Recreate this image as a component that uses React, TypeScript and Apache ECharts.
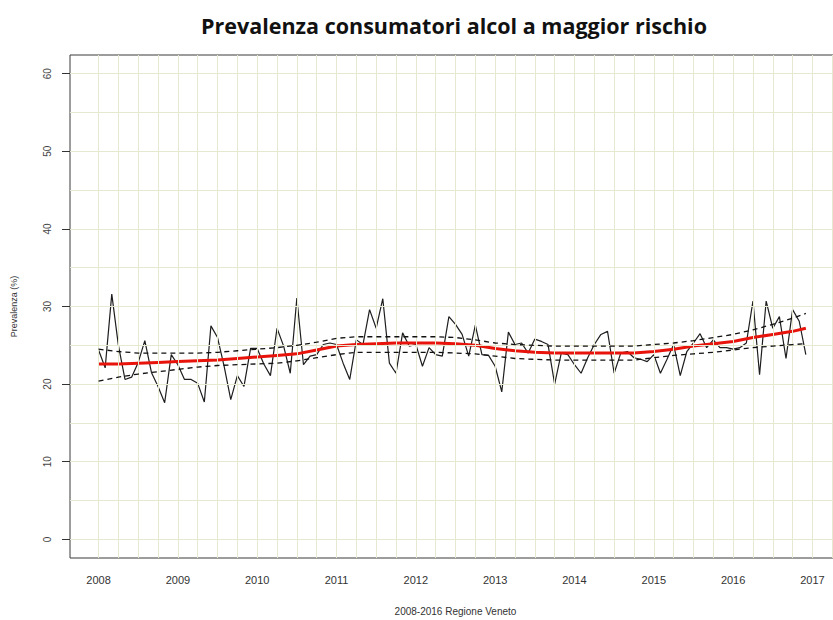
import React, { useEffect, useRef } from "react";
import * as echarts from "echarts";

const TITLE = "Prevalenza consumatori alcol a maggior rischio";
const X_NAME = "2008-2016 Regione Veneto";
const Y_NAME = "Prevalenza (%)";
const START_YEAR = 2008;
const YEAR_TICKS = [2008, 2009, 2010, 2011, 2012, 2013, 2014, 2015, 2016, 2017];
const Y_TICKS = [0, 10, 20, 30, 40, 50, 60];

// monthly prevalence (%), Jan..Dec
const v2008 = [24.4, 22.1, 31.6, 25.0, 20.6, 20.9, 22.8, 25.6, 21.5, 19.7, 17.6, 23.8];
const v2009 = [22.5, 20.6, 20.6, 20.1, 17.7, 27.5, 26.0, 22.3, 18.0, 21.1, 19.7, 24.6];
const v2010 = [24.6, 22.6, 21.1, 27.2, 24.9, 21.4, 31.1, 22.5, 23.6, 23.8, 25.1, 25.3];
const v2011 = [25.1, 22.7, 20.6, 25.7, 25.1, 29.6, 27.2, 31.0, 22.7, 21.4, 26.6, 24.9];
const v2012 = [25.1, 22.3, 24.7, 23.8, 23.6, 28.7, 27.7, 26.4, 23.6, 27.6, 23.8, 23.7];
const v2013 = [22.3, 19.0, 26.7, 25.1, 25.3, 24.0, 25.8, 25.5, 25.1, 20.0, 24.0, 23.8];
const v2014 = [22.5, 21.4, 23.4, 25.1, 26.4, 26.8, 21.4, 24.0, 24.2, 23.4, 23.2, 22.9];
const v2015 = [23.8, 21.4, 23.2, 25.1, 21.1, 24.2, 25.3, 26.5, 24.7, 25.7, 24.7, 24.7];
const v2016 = [24.5, 24.7, 25.3, 30.7, 21.2, 30.7, 27.2, 28.7, 23.3, 29.6, 28.1, 23.8];

// smoothed trend and confidence band, read at quarter points
const trendTimes = [
  2008, 2008.25, 2008.5, 2008.75, 2009, 2009.25, 2009.5, 2009.75,
  2010, 2010.25, 2010.5, 2010.75, 2011, 2011.25, 2011.5, 2011.75,
  2012, 2012.25, 2012.5, 2012.75, 2013, 2013.25, 2013.5, 2013.75,
  2014, 2014.25, 2014.5, 2014.75, 2015, 2015.25, 2015.5, 2015.75,
  2016, 2016.25, 2016.5, 2016.75, 2016.917,
];
const trend = [
  22.6, 22.6, 22.7, 22.8, 22.9, 23.0, 23.1, 23.3,
  23.5, 23.7, 23.9, 24.4, 24.9, 25.1, 25.2, 25.3,
  25.3, 25.3, 25.2, 25.0, 24.6, 24.3, 24.1, 24.0,
  24.0, 24.0, 24.0, 24.0, 24.2, 24.5, 24.9, 25.2,
  25.5, 26.0, 26.4, 26.8, 27.2,
];
const upper = [
  24.5, 24.2, 24.0, 24.0, 24.0, 24.0, 24.1, 24.3,
  24.5, 24.7, 25.0, 25.4, 25.9, 26.1, 26.1, 26.1,
  26.1, 26.1, 26.0, 25.7, 25.3, 25.1, 25.0, 24.9,
  24.9, 24.9, 24.9, 24.9, 25.1, 25.3, 25.6, 26.0,
  26.4, 27.0, 27.7, 28.5, 29.1,
];
const lower = [
  20.4, 20.9, 21.3, 21.6, 21.9, 22.2, 22.4, 22.5,
  22.6, 22.7, 23.0, 23.4, 23.8, 24.1, 24.1, 24.1,
  24.1, 24.1, 24.0, 23.9, 23.6, 23.3, 23.2, 23.1,
  23.1, 23.1, 23.1, 23.1, 23.4, 23.7, 23.9, 24.1,
  24.4, 24.7, 24.9, 25.1, 25.2,
];

export default function App() {
  const ref = useRef<HTMLDivElement>(null);

  useEffect(() => {
    document.body.style.margin = "0";
    if (!ref.current) return;
    const chart = echarts.init(ref.current, null, { renderer: "svg" });

    const monthly = [
      ...v2008, ...v2009, ...v2010, ...v2011, ...v2012,
      ...v2013, ...v2014, ...v2015, ...v2016,
    ];
    const rawData = monthly.map((v, i) => [START_YEAR + i / 12, v]);
    const zip = (vals: number[]) => vals.map((v, i) => [trendTimes[i], v]);

    const gridLines: any[] = [];
    for (let k = 0; k <= 37; k++) gridLines.push({ xAxis: 2008 + k * 0.25 });
    for (let k = 0; k <= 12; k++) gridLines.push({ yAxis: k * 5 });

    const tickFont = "Liberation Sans, Arial, sans-serif";

    chart.setOption({
      animation: false,
      backgroundColor: "#ffffff",
      title: {
        text: TITLE,
        left: 449,
        textAlign: "center",
        top: 9,
        textStyle: {
          fontFamily: "Open Sans, sans-serif",
          fontWeight: "bold",
          fontSize: 21.5,
          color: "#111",
        },
      },
      grid: {
        left: 70,
        top: 55,
        width: 771,
        height: 503,
        containLabel: false,
        outerBoundsMode: "none",
        show: true,
        borderColor: "#3a3a3a",
        borderWidth: 1,
        backgroundColor: "transparent",
      },
      xAxis: {
        type: "value",
        min: 2007.64,
        max: 2017.36,
        name: X_NAME,
        nameLocation: "middle",
        nameGap: 48,
        nameTextStyle: { fontFamily: tickFont, fontSize: 10, color: "#333" },
        axisLine: { show: false },
        axisTick: {
          show: true,
          customValues: YEAR_TICKS,
          length: 9,
          lineStyle: { color: "#333", width: 1 },
        },
        axisLabel: {
          customValues: YEAR_TICKS,
          margin: 16,
          fontFamily: tickFont,
          fontSize: 11,
          color: "#333",
          formatter: (v: number) => String(Math.round(v)),
        },
        splitLine: { show: false },
      },
      yAxis: {
        type: "value",
        min: -2.4,
        max: 62.4,
        name: Y_NAME,
        nameLocation: "middle",
        nameGap: 52,
        nameMoveOverlap: false,
        nameTextStyle: { fontFamily: tickFont, fontSize: 9, color: "#333" },
        axisLine: { show: false },
        axisTick: {
          show: true,
          customValues: Y_TICKS,
          length: 8,
          lineStyle: { color: "#333", width: 1 },
        },
        axisLabel: {
          show: true,
          customValues: Y_TICKS,
          rotate: 90,
          margin: 18,
          fontFamily: tickFont,
          fontSize: 10,
          color: "#444",
        },
        splitLine: { show: false },
      },
      series: [
        {
          type: "line",
          name: "grid",
          data: rawData,
          showSymbol: false,
          symbol: "none",
          silent: true,
          lineStyle: { opacity: 0 },
          z: 1,
          markLine: {
            silent: true,
            symbol: ["none", "none"],
            label: { show: false },
            emphasis: { disabled: true },
            lineStyle: { type: "solid", color: "#e6e9cf", width: 1 },
            data: gridLines,
            animation: false,
          },
        },
        {
          type: "line",
          name: "Prevalenza",
          data: rawData,
          symbol: "none",
          lineStyle: { color: "#1e1e1e", width: 1.2 },
          z: 3,
        },
        {
          type: "line",
          name: "Trend",
          data: zip(trend),
          symbol: "none",
          lineStyle: { color: "#e8140c", width: 3 },
          z: 4,
        },
        {
          type: "line",
          name: "Upper",
          data: zip(upper),
          symbol: "none",
          lineStyle: { color: "#111", width: 1.3, type: [5, 4] },
          z: 5,
        },
        {
          type: "line",
          name: "Lower",
          data: zip(lower),
          symbol: "none",
          lineStyle: { color: "#111", width: 1.3, type: [5, 4] },
          z: 5,
        },
      ],
    });

    return () => chart.dispose();
  }, []);

  return <div ref={ref} style={{ width: 833, height: 620 }} />;
}
